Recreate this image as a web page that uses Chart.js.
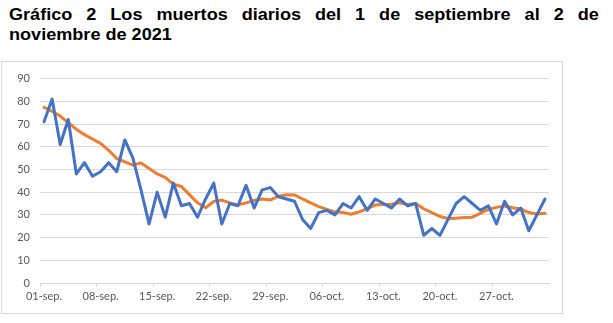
<!DOCTYPE html>
<html><head><meta charset="utf-8">
<script src="https://cdn.jsdelivr.net/npm/chart.js@4/dist/chart.umd.min.js"></script>
<style>
html,body{margin:0;padding:0;background:#fff;width:613px;height:323px;overflow:hidden;}
#title{position:absolute;left:9px;top:5px;width:522px;font-family:"Liberation Sans",Arial,sans-serif;font-weight:bold;font-size:16px;line-height:20px;color:#000;transform:scaleX(1.13);transform-origin:0 0;}
#title .l1{text-align:justify;text-align-last:justify;white-space:nowrap;display:flex;justify-content:space-between;}
#box{position:absolute;left:1px;top:61px;width:560px;height:251px;border:1px solid #d9d9d9;}
canvas{display:block;}
</style></head>
<body>
<div id="title"><div class="l1"><span>Gráfico</span><span>2</span><span>Los</span><span>muertos</span><span>diarios</span><span>del</span><span>1</span><span>de</span><span>septiembre</span><span>al</span><span>2</span><span>de</span></div><div>noviembre de 2021</div></div>
<div id="box"><canvas id="c" width="560" height="251"></canvas></div>
<script>
const categories = [
 "01-sep.","02-sep.","03-sep.","04-sep.","05-sep.","06-sep.","07-sep.","08-sep.","09-sep.","10-sep.",
 "11-sep.","12-sep.","13-sep.","14-sep.","15-sep.","16-sep.","17-sep.","18-sep.","19-sep.","20-sep.",
 "21-sep.","22-sep.","23-sep.","24-sep.","25-sep.","26-sep.","27-sep.","28-sep.","29-sep.","30-sep.",
 "01-oct.","02-oct.","03-oct.","04-oct.","05-oct.","06-oct.","07-oct.","08-oct.","09-oct.","10-oct.",
 "11-oct.","12-oct.","13-oct.","14-oct.","15-oct.","16-oct.","17-oct.","18-oct.","19-oct.","20-oct.",
 "21-oct.","22-oct.","23-oct.","24-oct.","25-oct.","26-oct.","27-oct.","28-oct.","29-oct.","30-oct.",
 "31-oct.","01-nov.","02-nov."
];
const dailyDeaths = [
 71,81,61,72,48,53,47,49,53,49,
 63,55,41,26,40,29,44,34,35,29,
 37,44,26,35,34,43,33,41,42,38,
 37,36,28,24,31,32,30,35,33,38,
 32,37,35,33,37,34,35,21,24,21,
 28,35,38,35,32,34,26,36,30,33,
 23,30,37
];
const movingAvg = [
 77.4,75.6,73.5,70.6,67.7,65.3,63.4,61.5,58.4,54.8,
 53.3,51.9,52.9,50.4,48.0,46.5,43.5,42.5,38.9,35.3,
 33.1,35.9,36.5,35.3,34.4,35.3,36.3,37.0,36.5,38.2,
 38.9,38.8,37.0,35.3,33.6,32.4,31.3,31.0,30.3,31.3,
 32.7,34.3,34.6,34.7,35.3,34.6,35.0,32.7,31.0,29.3,
 28.4,28.5,28.8,29.0,30.7,32.4,33.3,33.9,33.1,32.6,
 31.0,30.4,30.7
];
const yTicks = {min:0, max:90, step:10};
const labelEvery = 7;

const tickFont = {family:"Lato, 'Open Sans', sans-serif", size:11};
new Chart(document.getElementById('c'), {
  type:'line',
  data:{
    labels:categories,
    datasets:[
      {data:dailyDeaths, borderColor:'#4472C4', borderWidth:3, pointRadius:0, tension:0, borderJoinStyle:'round', borderCapStyle:'round', fill:false},
      {data:movingAvg, borderColor:'#ED7D31', borderWidth:3, pointRadius:0, tension:0, borderJoinStyle:'round', borderCapStyle:'round', fill:false}
    ]
  },
  options:{
    responsive:false, animation:false, devicePixelRatio:1,
    layout:{padding:{left:0,right:13,top:13,bottom:0}},
    plugins:{legend:{display:false}, tooltip:{enabled:false}},
    scales:{
      x:{
        offset:true,
        grid:{offset:true, drawOnChartArea:false, drawTicks:true, tickLength:4,
          color:ctx => (ctx.index % labelEvery === 0) ? '#d9d9d9' : 'rgba(0,0,0,0)'},
        border:{display:true, color:'#d9d9d9'},
        ticks:{autoSkip:false, maxRotation:0, minRotation:0, padding:3, color:'#595959', font:tickFont,
          callback:(v,i) => (i % labelEvery === 0) ? categories[i] : ''},
        afterFit:s => { s.height = 30; }
      },
      y:{
        min:yTicks.min, max:yTicks.max,
        grid:{color:'#d9d9d9', drawTicks:false, tickLength:0},
        border:{display:false},
        ticks:{stepSize:yTicks.step, padding:10, color:'#595959', font:tickFont},
        afterFit:s => { s.width = 38; }
      }
    }
  }
});
</script>
</body></html>
